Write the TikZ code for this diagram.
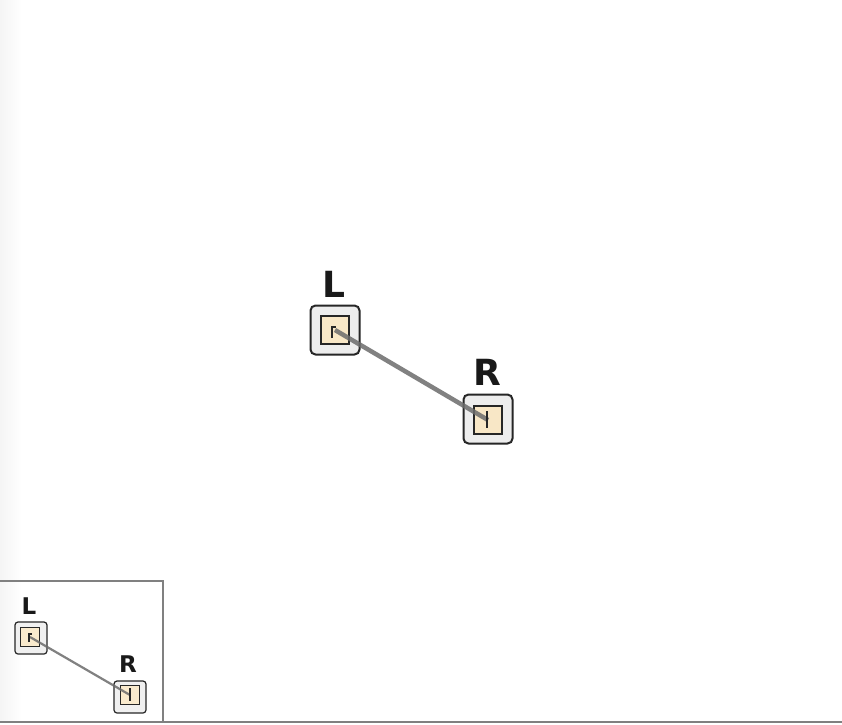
\documentclass[tikz,border=0pt]{standalone}
\usepackage{fontspec}
\setmainfont{DejaVu Sans}
\begin{document}
\begin{tikzpicture}[x=1pt,y=-1pt,
  outerbox/.style={draw=black!85,fill=black!7,line width=2pt,rounded corners=5pt,minimum size=49pt,inner sep=0pt},
  innerbox/.style={draw=black!85,fill=tan!40!white,line width=1.5pt,minimum size=28pt,inner sep=0pt},
  souter/.style={draw=black!85,fill=black!6,line width=1.2pt,rounded corners=3pt,minimum size=32pt,inner sep=0pt},
  sinner/.style={draw=black!85,fill=tan!35!white,line width=1.2pt,minimum size=19pt,inner sep=0pt},
  biglabel/.style={font=\bfseries\fontsize{36}{36}\selectfont,text=black!90,inner sep=0pt},
  smalllabel/.style={font=\bfseries\fontsize{23}{23}\selectfont,text=black!90,inner sep=0pt},
  link/.style={draw=black!58,line width=4.5pt,opacity=0.85},
  slink/.style={draw=black!58,line width=2.2pt,opacity=0.85}]
\definecolor{tan}{HTML}{EDC270}
\useasboundingbox (0,0) rectangle (842,724);
\fill[white] (0,0) rectangle (842,724);
\shade[left color=black!4,right color=white] (0,0) rectangle (22,720);
% main view
\node[outerbox] (Lo) at (335,330) {};
\node[innerbox] (Li) at (335,330) {};
\node[biglabel] (Ll) at (334,284) {L};
\node[outerbox] (Ro) at (488,419) {};
\node[innerbox] (Ri) at (488,420) {};
\node[biglabel] (Rl) at (487,372) {R};
\draw[link] (Li.center) -- (Ri.center);
\draw[line width=1.8pt,black!85] ([xshift=-3pt,yshift=-8pt]Li.center) -- ([xshift=-3pt,yshift=3pt]Li.center) -- ([xshift=1pt,yshift=3pt]Li.center);
\draw[line width=1.8pt,black!85] ([xshift=-1pt,yshift=9pt]Ri.center) -- ([xshift=-1pt,yshift=-8pt]Ri.center);
% minimap
\draw[black!50,line width=1.5pt] (0,581) -- (163,581) -- (163,722);
\draw[black!50,line width=1.5pt] (0,722) -- (842,722);
\node[souter] (sLo) at (31,638) {};
\node[sinner] (sLi) at (30,637) {};
\node[smalllabel] (sLl) at (29,606) {L};
\node[souter] (sRo) at (130,697) {};
\node[sinner] (sRi) at (130,695) {};
\node[smalllabel] (sRl) at (128,664) {R};
\draw[slink] (sLi.center) -- (sRi.center);
\draw[line width=1.8pt,black!85] ([xshift=-1pt,yshift=-5pt]sLi.center) -- ([xshift=-1pt,yshift=3pt]sLi.center) -- ([xshift=2pt,yshift=3pt]sLi.center);
\draw[line width=1.8pt,black!85] ([xshift=0pt,yshift=7pt]sRi.center) -- ([xshift=0pt,yshift=-6pt]sRi.center);
\end{tikzpicture}
\end{document}
